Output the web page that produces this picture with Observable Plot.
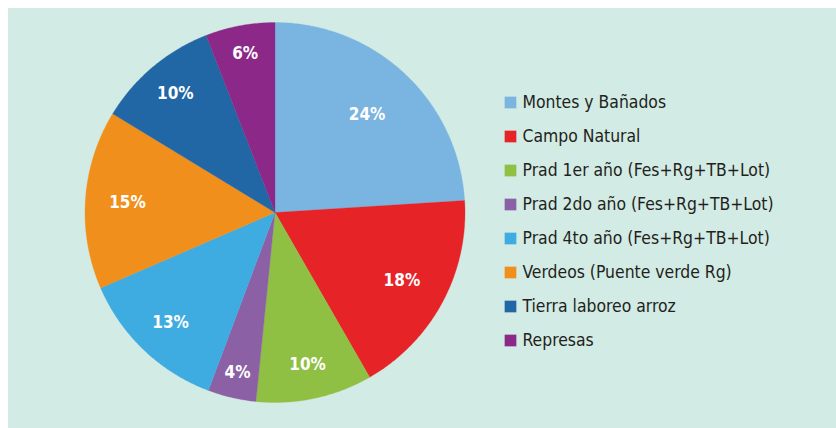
<!DOCTYPE html>
<html>
<head>
<meta charset="utf-8">
<script src="https://cdn.jsdelivr.net/npm/d3@7"></script>
<script src="https://cdn.jsdelivr.net/npm/@observablehq/plot@0.6"></script>
<style>
  html, body { margin: 0; padding: 0; background: #ffffff; }
  #panel { position: absolute; left: 8px; top: 8px; width: 828px; height: 420px; background: #d2ebe4; }
  #pie, #legend { position: absolute; left: 0; top: 0; }
</style>
</head>
<body>
<div id="panel"></div>
<div id="pie"></div>
<div id="legend"></div>
<script>
const categories = [
  "Montes y Bañados",
  "Campo Natural",
  "Prad 1er año (Fes+Rg+TB+Lot)",
  "Prad 2do año (Fes+Rg+TB+Lot)",
  "Prad 4to año (Fes+Rg+TB+Lot)",
  "Verdeos (Puente verde Rg)",
  "Tierra laboreo arroz",
  "Represas"
];
const shares = [24.0, 17.7, 9.9, 4.1, 12.8, 15.2, 10.4, 5.9];
const labels = ["24%", "18%", "10%", "4%", "13%", "15%", "10%", "6%"];
const colors = ["#7ab4e0", "#e62327", "#8fbf43", "#8b60a5", "#3eabe1", "#f08f1b", "#2166a5", "#8c2887"];

const W = 836, H = 428, CX = 274.5, CY = 212, R = 190;
const FONT = "'DejaVu Sans Condensed', 'Liberation Sans Narrow', sans-serif";
const total = d3.sum(shares);
const arcs = d3.pie().sort(null).value(d => d)(shares);

// polygon points for each slice (unit circle, clockwise from 12 o'clock)
const slicePts = [];
arcs.forEach((a, i) => {
  const n = Math.max(8, Math.ceil((a.endAngle - a.startAngle) / 0.01));
  slicePts.push({cat: categories[i], x: 0, y: 0});
  for (let k = 0; k <= n; k++) {
    const t = a.startAngle + (a.endAngle - a.startAngle) * k / n;
    slicePts.push({cat: categories[i], x: Math.sin(t), y: Math.cos(t)});
  }
  slicePts.push({cat: categories[i], x: 0, y: 0});
});

const labelPts = arcs.map((a, i) => {
  const m = (a.startAngle + a.endAngle) / 2;
  const rr = 0.9 - 0.8 * shares[i] / total;
  return {text: labels[i], x: rr * Math.sin(m), y: rr * Math.cos(m)};
});

const colorScale = {type: "ordinal", domain: categories, range: colors};

const pie = Plot.plot({
  width: W, height: H,
  margin: 0,
  style: {background: "transparent", overflow: "visible"},
  x: {domain: [-1, 1], range: [CX - R, CX + R], axis: null},
  y: {domain: [-1, 1], range: [CY + R, CY - R], axis: null},
  color: colorScale,
  marks: [
    Plot.line(slicePts, {x: "x", y: "y", z: "cat", fill: "cat", stroke: "cat", strokeWidth: 0.3, curve: "linear"}),
    Plot.text(labelPts, {x: "x", y: "y", text: "text", fill: "#ffffff", fontSize: 17, fontWeight: "bold",
      fontFamily: FONT})
  ]
});
document.getElementById("pie").appendChild(pie);

const legend = Plot.plot({
  width: W, height: H,
  marginLeft: 510, marginRight: 0, marginTop: 0, marginBottom: 0,
  style: {background: "transparent", overflow: "visible"},
  y: {type: "point", domain: categories, range: [102, 340], padding: 0, axis: null},
  color: colorScale,
  marks: [
    Plot.dot(categories, {y: d => d, fill: d => d, symbol: "square", r: 6.6, frameAnchor: "left"}),
    Plot.text(categories, {y: d => d, text: d => d, frameAnchor: "left", dx: 12, textAnchor: "start",
      fill: "#231f20", fontSize: 17.4, fontFamily: FONT})
  ]
});
document.getElementById("legend").appendChild(legend);
</script>
</body>
</html>
